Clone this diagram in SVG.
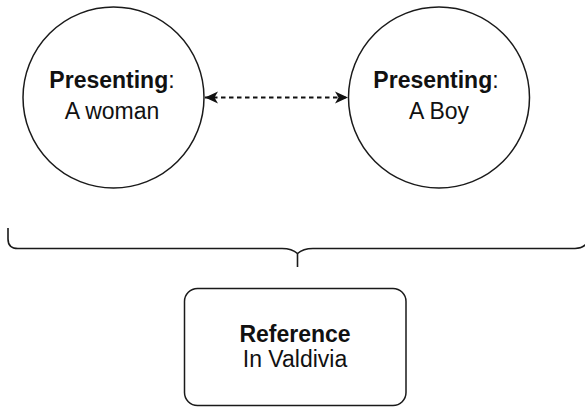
<svg xmlns="http://www.w3.org/2000/svg" width="585" height="408" viewBox="0 0 585 408">
  <style>
    .shape { fill: #ffffff; stroke: #1a1a1a; stroke-width: 1.5; }
    .label { font-family: "Liberation Sans", Arial, Helvetica, sans-serif; font-size: 23px; fill: #111111; text-anchor: middle; }
    .bold { font-weight: bold; }
    .plain { font-weight: normal; }
    .link { fill: none; stroke: #111111; stroke-width: 1.8; stroke-dasharray: 4.5 3.5; }
    .brace { fill: none; stroke: #1a1a1a; stroke-width: 1.6; }
  </style>
  <defs>
    <marker id="head" viewBox="0 0 14 14" refX="13" refY="7" markerWidth="14" markerHeight="14" markerUnits="userSpaceOnUse" orient="auto-start-reverse">
      <path d="M0,1 L13,7 L0,13 L3.5,7 Z" fill="#111111"/>
    </marker>
  </defs>
  <rect width="585" height="408" fill="#ffffff"/>

  <g id="connectors">
    <path class="link" d="M205,97.5 L348,97.5" marker-start="url(#head)" marker-end="url(#head)"/>
    <path class="brace" d="M8,228 L8,239 Q8,248.5 18,248.5 L282,248.5 Q292,248.5 297.5,253.5 Q303,248.5 313,248.5 L575,248.5 Q583,248.5 587,243"/>
    <path class="brace" d="M297.5,253 L297.5,267"/>
  </g>

  <g id="node-woman">
    <circle class="shape" cx="113.5" cy="97.5" r="90.5"/>
    <text class="label bold" x="112" y="88">Presenting<tspan class="plain">:</tspan></text>
    <text class="label" x="112" y="119">A woman</text>
  </g>

  <g id="node-boy">
    <circle class="shape" cx="439" cy="97.5" r="90.5"/>
    <text class="label bold" x="436" y="88">Presenting<tspan class="plain">:</tspan></text>
    <text class="label" x="439" y="119">A Boy</text>
  </g>

  <g id="node-reference">
    <rect class="shape" x="184.5" y="288.5" width="221.5" height="117" rx="13" ry="13"/>
    <text class="label bold" x="295" y="342">Reference</text>
    <text class="label" x="295" y="367">In Valdivia</text>
  </g>
</svg>
